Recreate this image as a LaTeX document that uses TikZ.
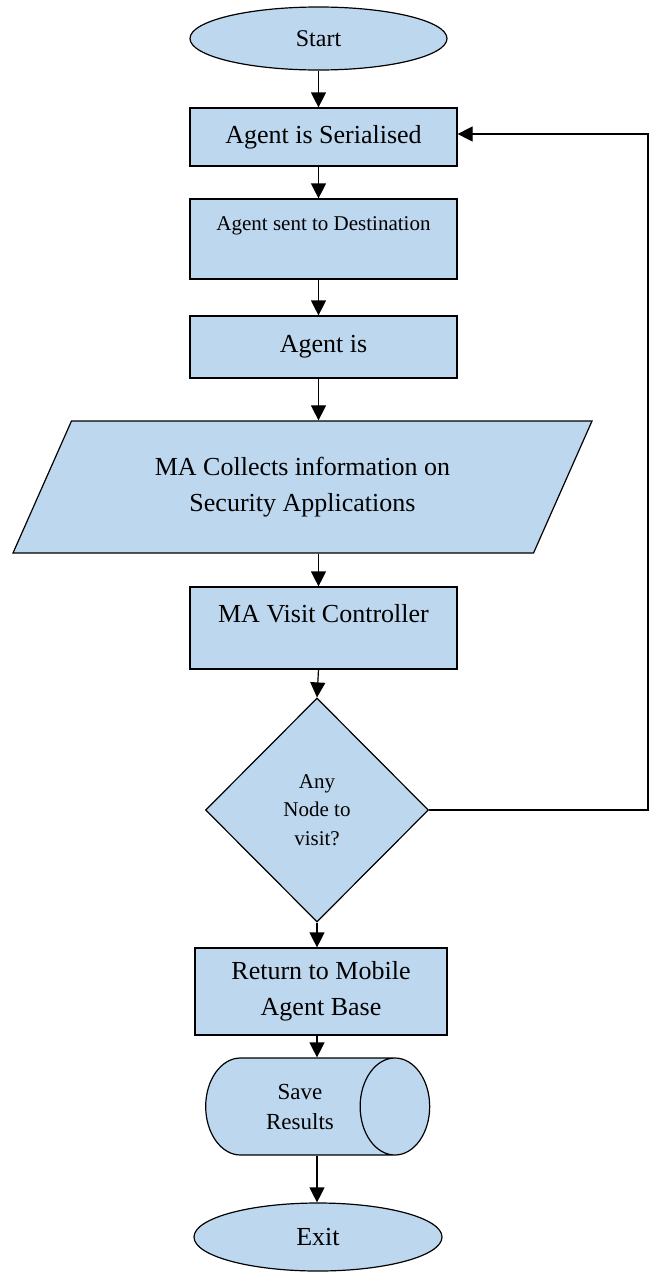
\documentclass[tikz,border=0pt]{standalone}
\usepackage{fontspec}
\setmainfont{Liberation Serif}
\usetikzlibrary{arrows.meta,shapes.geometric}
\definecolor{flowblue}{RGB}{189,215,238}
\tikzset{
  blk/.style={draw=black, line width=1.2pt, fill=flowblue, inner sep=0pt, align=center},
  procbox/.style={blk, rectangle, minimum width=267pt},
  flow/.style={line width=1.2pt, -{Triangle[length=15pt,width=15pt]}},
}

\begin{document}
\begin{tikzpicture}[x=1pt,y=-1pt]
			%%%%% START %%%%%
			\useasboundingbox (0,0) rectangle (650,1277);
			
			\node[blk, ellipse, minimum width=257pt, minimum height=63pt, font=\fontsize{24}{28}\selectfont] (start) at (318.5, 38.5) {Start};
			\node[procbox, minimum height=58pt, font=\fontsize{26}{30}\selectfont] (serial) at (323.5, 137) {Agent is Serialised};
			\node[procbox, minimum height=80pt, text height=31pt, text depth=49pt, font=\fontsize{21}{25}\selectfont] (sent) at (323.5, 239) {Agent sent to Destination};
			\node[procbox, minimum height=62pt, font=\fontsize{26}{30}\selectfont] (agentis) at (323.5, 347) {Agent is};
			
			\node[blk, trapezium, trapezium left angle=45.7, trapezium right angle=134.3, trapezium stretches body, minimum width=579pt, minimum height=132pt, font=\fontsize{26}{36}\selectfont] (collect) at (302.5, 487) {MA Collects information on\\Security Applications};
			
			\node[procbox, minimum height=82pt, text height=35pt, text depth=47pt, font=\fontsize{26}{30}\selectfont] (visit) at (323.5, 628) {MA Visit Controller};
			\node[blk, diamond, minimum width=223pt, minimum height=224pt, font=\fontsize{21}{28.5}\selectfont] (any) at (317, 810) {Any\\Node to\\visit?};
			\node[blk, rectangle, minimum width=252pt, minimum height=87pt, font=\fontsize{26}{36}\selectfont] (ret) at (321, 991.5) {Return to Mobile\\Agent Base};
			\node[blk, cylinder, shape aspect=1.53, minimum height=224pt, minimum width=97pt, font=\fontsize{23}{30}\selectfont] (save) at (300, 1106.5) {Save\\Results};
			\node[blk, ellipse, minimum width=248pt, minimum height=68pt, font=\fontsize{26}{30}\selectfont] (exit) at (318, 1237) {Exit};
			
			\draw[flow] (start.south) -- (start.south |- serial.north);
			\draw[flow] (serial.south -| start) -- (sent.north -| start);
			\draw[flow] (sent.south -| start) -- (agentis.north -| start);
			\draw[flow] (agentis.south -| start) -- (collect.north -| start);
			\draw[flow] (collect.south -| start) -- (visit.north -| start);
			\draw[flow] (visit.south -| start) -- (any.north);
			\draw[flow] (any.south) -- (ret.north -| any);
			\draw[flow] (ret.south -| any) -- (save.north -| any);
			\draw[flow] (save.south -| any) -- (exit.north -| any);
			
			\coordinate (back) at (648, 134);
			\draw[flow] (any.east) -| (back) -- (back -| serial.east);
			
			%%%%% END %%%%%
\end{tikzpicture}
\end{document}
